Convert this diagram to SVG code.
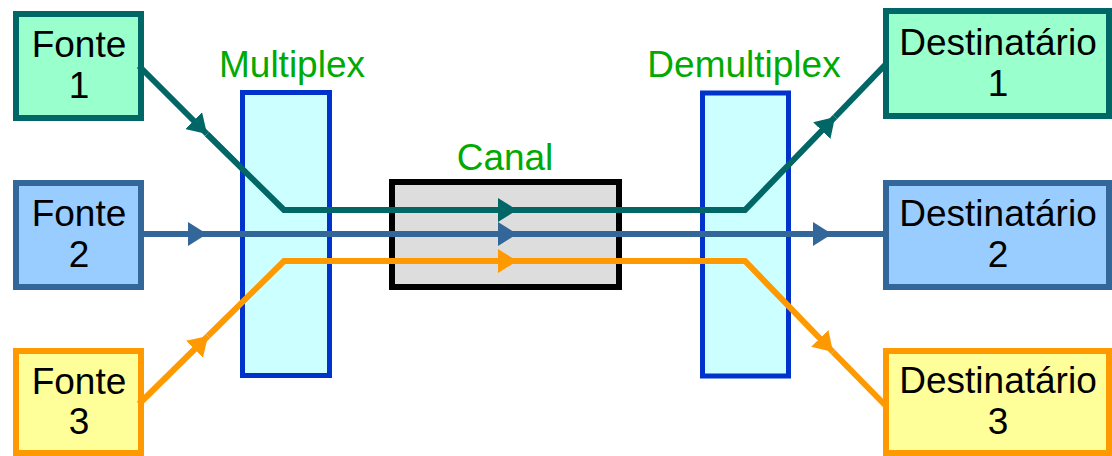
<svg xmlns="http://www.w3.org/2000/svg" width="1112" height="456" viewBox="0 0 1112 456">
<style>
text{font-family:"Liberation Sans",Arial,sans-serif;font-size:37px;text-anchor:middle}
.lbl{fill:#00AA00}
.node{stroke-width:6}
.mux{fill:#CCFFFF;stroke:#0033CC;stroke-width:5}
.ln{fill:none;stroke-width:6;stroke-linejoin:miter}
.teal{stroke:#006666}
.blue{stroke:#336699}
.orng{stroke:#FF9900}
</style>
<defs>
<marker id="aT" markerUnits="userSpaceOnUse" markerWidth="19" markerHeight="24" refX="19" refY="12" orient="auto" viewBox="0 0 19 24"><path d="M0,0 L19,12 L0,24 z" fill="#006666"/></marker>
<marker id="aB" markerUnits="userSpaceOnUse" markerWidth="19" markerHeight="24" refX="19" refY="12" orient="auto" viewBox="0 0 19 24"><path d="M0,0 L19,12 L0,24 z" fill="#336699"/></marker>
<marker id="aO" markerUnits="userSpaceOnUse" markerWidth="19" markerHeight="24" refX="19" refY="12" orient="auto" viewBox="0 0 19 24"><path d="M0,0 L19,12 L0,24 z" fill="#FF9900"/></marker>
</defs>
<rect width="1112" height="456" fill="#FFFFFF"/>
<g id="multiplex">
<rect class="mux" x="242.5" y="92.5" width="87" height="283"/>
<text class="lbl" x="292" y="77">Multiplex</text>
</g>
<g id="demultiplex">
<rect class="mux" x="702.5" y="93" width="86" height="283"/>
<text class="lbl" x="744" y="77">Demultiplex</text>
</g>
<g id="canal">
<rect x="392" y="182" width="227" height="105" fill="#DDDDDD" stroke="#000000" stroke-width="6"/>
<text class="lbl" x="505" y="170">Canal</text>
</g>
<g id="fonte1">
<rect class="node" x="16" y="14" width="125" height="104" fill="#99FFCC" stroke="#006666"/>
<text x="79" y="57">Fonte</text><text x="79" y="98">1</text>
</g>
<g id="fonte2">
<rect class="node" x="16" y="183" width="125" height="104" fill="#99CCFF" stroke="#336699"/>
<text x="79" y="226">Fonte</text><text x="79" y="267">2</text>
</g>
<g id="fonte3">
<rect class="node" x="16" y="351" width="125" height="102" fill="#FFFF99" stroke="#FF9900"/>
<text x="79" y="394">Fonte</text><text x="79" y="434">3</text>
</g>
<g id="dest1">
<rect class="node" x="886" y="11" width="223" height="105" fill="#99FFCC" stroke="#006666"/>
<text x="998" y="55">Destinatário</text><text x="998" y="96">1</text>
</g>
<g id="dest2">
<rect class="node" x="886" y="183" width="223" height="104" fill="#99CCFF" stroke="#336699"/>
<text x="998" y="226">Destinatário</text><text x="998" y="267">2</text>
</g>
<g id="dest3">
<rect class="node" x="886" y="351" width="223" height="102" fill="#FFFF99" stroke="#FF9900"/>
<text x="998" y="393">Destinatário</text><text x="998" y="434">3</text>
</g>
<g id="connectors">
<path class="ln teal" d="M139,66 L207,134" marker-end="url(#aT)"/>
<path class="ln teal" d="M207,134 L284,210 L517,210" marker-end="url(#aT)"/>
<path class="ln teal" d="M517,210 L745,210 L835,117" marker-end="url(#aT)"/>
<path class="ln teal" d="M835,117 L886,64"/>
<path class="ln blue" d="M141,234 L207,234" marker-end="url(#aB)"/>
<path class="ln blue" d="M207,234 L517,234" marker-end="url(#aB)"/>
<path class="ln blue" d="M517,234 L832,234" marker-end="url(#aB)"/>
<path class="ln blue" d="M832,234 L886,234"/>
<path class="ln orng" d="M139,404 L208,336" marker-end="url(#aO)"/>
<path class="ln orng" d="M208,336 L284,261 L517,261" marker-end="url(#aO)"/>
<path class="ln orng" d="M517,261 L745,261 L833,352" marker-end="url(#aO)"/>
<path class="ln orng" d="M833,352 L886,406"/>
</g>
</svg>
